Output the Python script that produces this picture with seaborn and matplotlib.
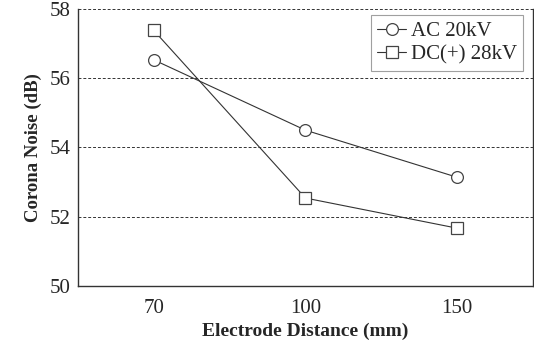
import matplotlib
matplotlib.use('Agg')
import matplotlib.pyplot as plt
import seaborn as sns
import pandas as pd

# data
distances = ['70', '100', '150']
ac_20kv = [56.53, 54.50, 53.14]
dc_28kv = [57.38, 52.54, 51.67]

sns.set_style('white')
plt.rcParams['font.family'] = ['Liberation Serif', 'DejaVu Serif']

df = pd.DataFrame({
    'distance': distances * 2,
    'noise': ac_20kv + dc_28kv,
    'series': ['AC 20kV'] * 3 + ['DC(+) 28kV'] * 3,
})

fig = plt.figure(figsize=(5.34, 3.45), dpi=100)
ax = fig.add_axes([0.146, 0.171, 0.852, 0.803])

markers = {'AC 20kV': 'o', 'DC(+) 28kV': 's'}
for name, grp in df.groupby('series', sort=False):
    sns.lineplot(data=grp, x='distance', y='noise', ax=ax, color='#333333',
                 lw=0.8, marker=markers[name], markersize=8.5, mfc='white',
                 mec='#444444', mew=0.9, label=name, sort=False)

ax.set_xlim(-0.5, 2.5)
ax.set_ylim(50, 58)
ax.set_yticks([50, 52, 54, 56, 58])
ax.set_xticks([0, 1, 2])
ax.set_xticklabels(distances)
ax.set_xticks([0.5, 1.5], minor=True)
ax.tick_params(axis='x', which='major', length=0, labelsize=15, pad=9)
ax.tick_params(axis='x', which='minor', direction='in', length=5, width=0.8, color='#333333')
ax.tick_params(axis='y', length=0, labelsize=15, pad=5)

for y in [52, 54, 56, 58]:
    ax.axhline(y, color='#333333', lw=0.7, ls=(0, (3, 2)), zorder=0)

for side in ['left', 'bottom', 'right']:
    ax.spines[side].set_color('#333333')
    ax.spines[side].set_linewidth(1.0)
ax.spines['top'].set_visible(False)

ax.set_xlabel('Electrode Distance (mm)', fontsize=14, fontweight='bold', labelpad=4)
ax.set_ylabel('Corona Noise (dB)', fontsize=13.5, fontweight='bold', labelpad=6)

leg = ax.legend(loc='upper right', bbox_to_anchor=(523 / 534, 1 - 15 / 345),
                bbox_transform=fig.transFigure, borderaxespad=0,
                fontsize=15, frameon=True, fancybox=False,
                edgecolor='#888888', handlelength=1.4, handletextpad=0.2,
                labelspacing=0.2, borderpad=0.3)
leg.get_frame().set_linewidth(0.8)

fig.savefig('out.png', dpi=100)
